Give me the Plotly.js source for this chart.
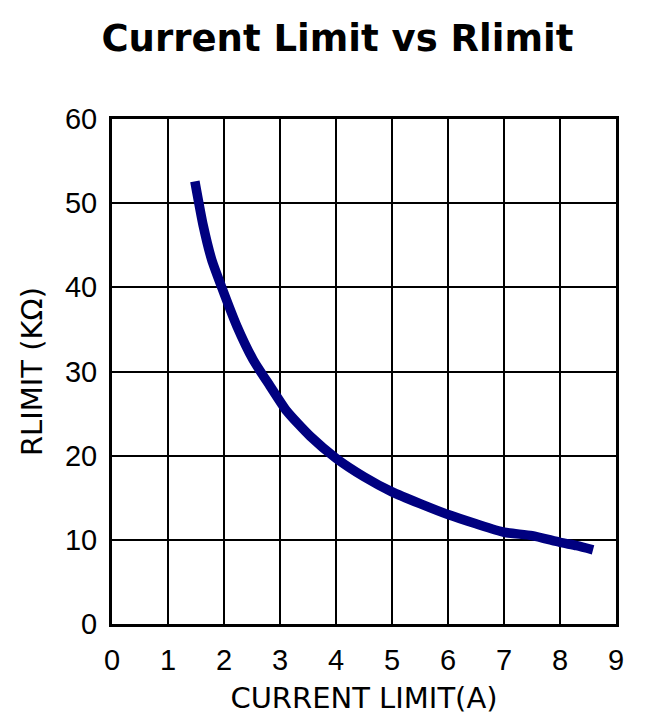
<!DOCTYPE html>
<html>
<head>
<meta charset="utf-8">
<script src="https://cdn.plot.ly/plotly-3.0.1.min.js"></script>
<style>html,body{margin:0;padding:0;background:#fff;}#chart{width:659px;height:727px;}</style>
</head>
<body>
<div id="chart"></div>
<script>
var currentLimit = [1.48,1.63,1.78,1.96,2.23,2.52,2.82,3.12,3.54,4.0,4.5,5.0,5.5,6.0,6.5,7.0,7.5,8.0,8.3,8.59];
var rLimit = [52.6,47.3,43.3,40.0,35.4,31.4,28.3,25.3,22.3,19.7,17.5,15.7,14.3,13.0,11.9,10.9,10.5,9.7,9.3,8.8];
var xTicks = [0,1,2,3,4,5,6,7,8,9];
var yTicks = [0,10,20,30,40,50,60];

var trace = {
  x: currentLimit, y: rLimit, type: 'scatter', mode: 'lines',
  line: {color: '#000080', width: 9.5, shape: 'spline', smoothing: 0.6},
  hoverinfo: 'skip'
};
var font = 'Arial, "Liberation Sans", sans-serif';
var wide = '"DejaVu Sans", sans-serif';
var layout = {
  width: 659, height: 727,
  margin: {l: 112, r: 43, t: 119, b: 103},
  paper_bgcolor: '#fff', plot_bgcolor: '#fff',
  showlegend: false,
  title: {text: '<b>Current Limit vs Rlimit</b>', font: {family: wide, size: 37, color: '#000'},
          x: 0.512, xanchor: 'center', y: 1 - 38/727, yref: 'container', yanchor: 'middle'},
  xaxis: {
    range: [0, 9], tickvals: xTicks, ticktext: xTicks.map(String),
    showgrid: true, gridcolor: '#000', gridwidth: 2,
    showline: true, linecolor: '#000', linewidth: 3, mirror: true,
    ticks: 'outside', ticklen: 8, tickcolor: 'rgba(0,0,0,0)',
    tickfont: {family: font, size: 29, color: '#000'},
    zeroline: false,
    title: {text: 'CURRENT LIMIT(A)', font: {family: wide, size: 29, color: '#000'}, standoff: 13}
  },
  yaxis: {
    range: [0, 60], tickvals: yTicks, ticktext: yTicks.map(String),
    showgrid: true, gridcolor: '#000', gridwidth: 2,
    showline: true, linecolor: '#000', linewidth: 3, mirror: true,
    ticks: 'outside', ticklen: 6, tickcolor: 'rgba(0,0,0,0)',
    tickfont: {family: font, size: 29, color: '#000'},
    zeroline: false,
    title: {text: 'RLIMIT (KΩ)', font: {family: wide, size: 29, color: '#000'}, standoff: 14}
  }
};
Plotly.newPlot('chart', [trace], layout, {displayModeBar: false, staticPlot: true});
</script>
</body>
</html>
